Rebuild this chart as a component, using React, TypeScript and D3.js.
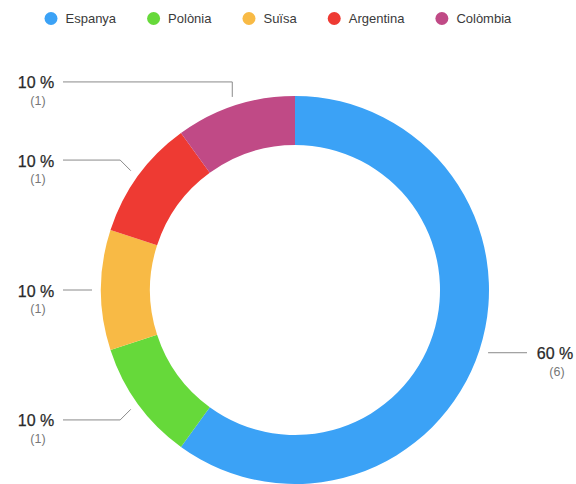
import React, { useRef, useEffect } from "react";
import * as d3 from "d3";

const countries = ["Espanya", "Polònia", "Suïsa", "Argentina", "Colòmbia"];
const counts = [6, 1, 1, 1, 1];
const colors = ["#3BA2F6", "#66D93A", "#F8BA45", "#EE3A33", "#C04A86"];

const W = 576;
const H = 484;

const App = () => {
  const svgRef = useRef<SVGSVGElement | null>(null);

  useEffect(() => {
    const svg = d3.select(svgRef.current);
    svg.selectAll("*").remove();

    const cx = 295;
    const cy = 290;
    const outerR = 194;
    const innerR = 145;
    const font = "'Liberation Sans', Arial, Helvetica, sans-serif";

    const data = countries.map((name, i) => ({ name, value: counts[i], color: colors[i] }));
    const total = d3.sum(counts);

    const pie = d3
      .pie<any>()
      .value((d) => d.value)
      .sort(null)
      .startAngle(0)
      .endAngle(2 * Math.PI);
    const arcs = pie(data);

    const arc = d3.arc<any>().innerRadius(innerR).outerRadius(outerR);

    const g = svg.append("g").attr("transform", `translate(${cx},${cy})`);

    g.selectAll("path.slice")
      .data(arcs)
      .join("path")
      .attr("class", "slice")
      .attr("d", arc)
      .attr("fill", (d) => d.data.color);

    // leader lines + labels
    const r1 = 203;
    const elbowLen = 15;
    const leftEnd = 63 - cx;
    const rightEnd = 527 - cx;

    arcs.forEach((d) => {
      const a = (d.startAngle + d.endAngle) / 2;
      const sx = r1 * Math.sin(a);
      const sy = -r1 * Math.cos(a);
      // snap the elbow direction to 45 degree steps
      const snapped = Math.round(a / (Math.PI / 4)) * (Math.PI / 4);
      let ex = sx + elbowLen * Math.sin(snapped);
      let ey = sy - elbowLen * Math.cos(snapped);
      if (Math.abs(Math.cos(snapped)) < 1e-6) {
        ex = sx;
        ey = sy;
      }
      const isRight = Math.sin(a) > 0;
      const endX = isRight ? rightEnd : leftEnd;

      const path = d3.path();
      path.moveTo(sx, sy);
      path.lineTo(ex, ey);
      path.lineTo(endX, ey);
      g.append("path")
        .attr("d", path.toString())
        .attr("fill", "none")
        .attr("stroke", "#8a8a8a")
        .attr("stroke-width", 1);

      const labelX = isRight ? endX + 28 : endX - 27;
      const pct = Math.round((d.data.value / total) * 100);
      g.append("text")
        .attr("x", labelX)
        .attr("y", ey + 6.5)
        .attr("text-anchor", "middle")
        .attr("font-family", font)
        .attr("font-size", 16)
        .attr("fill", "#2a2a2a")
        .attr("stroke", "#2a2a2a")
        .attr("stroke-width", 0.25)
        .text(`${pct} %`);
      g.append("text")
        .attr("x", labelX + 2)
        .attr("y", ey + 23)
        .attr("text-anchor", "middle")
        .attr("font-family", font)
        .attr("font-size", 12.5)
        .attr("fill", "#777")
        .text(`(${d.data.value})`);
    });

    // legend
    const legend = svg.append("g").attr("transform", "translate(0,18.5)");
    let x = 44.5;
    data.forEach((d) => {
      legend
        .append("circle")
        .attr("cx", x + 6.5)
        .attr("cy", 0)
        .attr("r", 6.5)
        .attr("fill", d.color);
      const t = legend
        .append("text")
        .attr("x", x + 21)
        .attr("y", 4.5)
        .attr("font-family", font)
        .attr("font-size", 13)
        .attr("fill", "#3a3a3a")
        .text(d.name);
      const w = (t.node() as SVGTextElement).getComputedTextLength();
      x += 21 + w + 31;
    });
  }, []);

  return (
    <div style={{ position: "fixed", left: 0, top: 0, width: W, height: H, background: "#fff" }}>
      <svg ref={svgRef} width={W} height={H} style={{ display: "block" }} />
    </div>
  );
};

export default App;
